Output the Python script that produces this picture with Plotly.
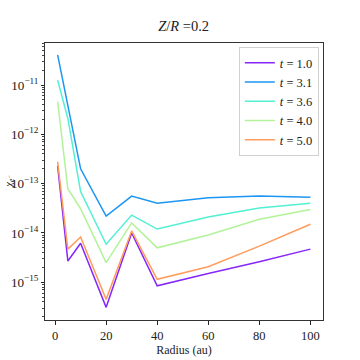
import plotly.graph_objects as go

# radii (au) and electron fraction per time snapshot
radius = [1, 5, 10, 20, 30, 40, 60, 80, 100]
times = ["1.0", "3.1", "3.6", "4.0", "5.0"]
chi_t10 = [2.3e-13, 2.7e-15, 6.2e-15, 3.1e-16, 1.0e-14, 8.5e-16, 1.5e-15, 2.6e-15, 4.7e-15]
chi_t31 = [4.1e-11, 3.9e-12, 2.0e-13, 2.2e-14, 5.6e-14, 4.0e-14, 5.2e-14, 5.6e-14, 5.3e-14]
chi_t36 = [1.26e-11, 2.1e-12, 6.9e-14, 5.9e-15, 2.3e-14, 1.2e-14, 2.1e-14, 3.2e-14, 4.0e-14]
chi_t40 = [4.6e-12, 7.9e-14, 3.1e-14, 2.5e-15, 1.6e-14, 5.0e-15, 9.1e-15, 1.9e-14, 3.0e-14]
chi_t50 = [2.8e-13, 4.7e-15, 8.3e-15, 4.5e-16, 1.1e-14, 1.15e-15, 2.07e-15, 5.4e-15, 1.5e-14]

series = [chi_t10, chi_t31, chi_t36, chi_t40, chi_t50]
colors = ["#8526fc", "#1c96f2", "#52f0d2", "#b2f39a", "#ff9c5c"]

fig = go.Figure()
for t, vals, c in zip(times, series, colors):
    fig.add_trace(go.Scatter(
        x=radius, y=vals, mode="lines",
        line=dict(color=c, width=1.5),
        name="<i>t</i> = " + t,
    ))

fig.update_layout(
    width=360, height=360,
    margin=dict(l=45, r=37, t=43, b=40),
    paper_bgcolor="white", plot_bgcolor="white",
    font=dict(family="Liberation Serif, DejaVu Serif, serif", size=12, color="#222"),
    title=dict(text="<i>Z</i>/<i>R</i> =0.2", x=0.51, xanchor="center",
               y=0.915, yanchor="bottom", font=dict(size=14.5, weight="normal")),
    legend=dict(x=0.985, y=0.985, xanchor="right", yanchor="top",
                bgcolor="rgba(255,255,255,0.8)", bordercolor="#d0d0d0", borderwidth=1,
                font=dict(size=12.5), tracegroupgap=0, itemwidth=30),
    showlegend=True,
)

# y label placed by hand, left of the tick labels
fig.add_annotation(
    text="<i>χ</i><sub><i>e</i><sup>−</sup></sub>",
    xref="paper", yref="paper", x=-0.132, y=0.5,
    xanchor="center", yanchor="middle", textangle=-90,
    showarrow=False, font=dict(size=11),
)

fig.update_xaxes(
    range=[-3.95, 104.95], tickvals=[0, 20, 40, 60, 80, 100],
    ticks="outside", ticklen=3.5, tickcolor="#222", tickfont=dict(size=12.5),
    showline=True, linecolor="#333", linewidth=1, mirror=True,
    showgrid=False, zeroline=False, automargin=False,
    title=dict(text="Radius (au)", standoff=4, font=dict(size=12)),
)
fig.update_yaxes(
    type="log", range=[-15.765, -10.148], dtick=1, exponentformat="power",
    ticks="outside", ticklen=3.5, tickcolor="#222", tickfont=dict(size=10.5),
    minor=dict(ticks="outside", ticklen=2, tickcolor="#444", showgrid=False),
    showline=True, linecolor="#333", linewidth=1, mirror=True,
    showgrid=False, zeroline=False, automargin=False,
)

# page body has a default 8px margin; drop it so the figure fills the window
fig.write_html("out.html", config={"displayModeBar": False},
               post_script="document.body.style.margin='0';")
